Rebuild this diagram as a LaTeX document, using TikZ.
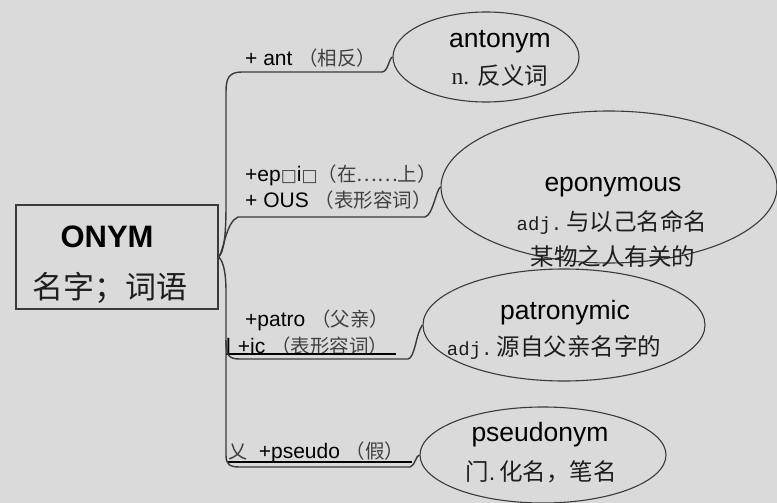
\documentclass[tikz,border=0pt]{standalone}
\usepackage{fontspec}
\setmainfont{Liberation Sans}
\newfontfamily\cjk{Noto Sans CJK SC}
\newfontfamily\monof{Liberation Mono}
\newfontfamily\seriff{Liberation Serif}
\newfontfamily\symf{DejaVu Sans}
\usetikzlibrary{shapes.geometric}
\definecolor{bgc}{HTML}{DADADA}
\definecolor{linec}{HTML}{3A3A3A}
\definecolor{txt}{HTML}{1E1E1E}
\definecolor{labc}{HTML}{404040}
\newcommand{\cjkl}[1]{{\cjk\fontsize{19.5}{23}\selectfont\color{labc}#1}}
\begin{document}
\begin{tikzpicture}[x=1pt,y=-1pt,
  bubble/.style={draw=linec, line width=1.1pt, ellipse, inner sep=0pt},
  branch/.style={draw=linec, line width=1.4pt},
  headtxt/.style={font=\fontsize{26.5}{30}\selectfont, text=black, inner sep=0pt},
  deftxt/.style={font=\fontsize{23.5}{27}\selectfont, text=txt, inner sep=0pt},
  labtxt/.style={anchor=west, font=\fontsize{21}{25}\selectfont, text=black, inner sep=0pt},
  uline/.style={draw=black, line width=1.1pt}]
\fill[bgc] (0,0) rectangle (777,503);
\useasboundingbox (0,0) rectangle (777,503);

% root box
\node[draw=linec, line width=1.4pt, minimum width=202pt, minimum height=104pt, inner sep=0pt, fill=bgc] (box) at (117,257) {};
\node[font=\fontsize{31}{35}\selectfont\bfseries, inner sep=0pt] (onym) at (107,237) {ONYM};
\node[font=\cjk\fontsize{31}{35}\selectfont, text=txt, inner sep=0pt] (onymcn) at (110,288) {名字；词语};

% ellipses
\node[bubble, minimum width=186pt, minimum height=90pt] (ant) at (486,57) {};
\node[bubble, minimum width=336pt, minimum height=152pt] (epo) at (609,187) {};
\node[bubble, minimum width=282pt, minimum height=112pt] (pat) at (564,325) {};
\node[bubble, minimum width=246pt, minimum height=96pt] (pse) at (543,455) {};

% ellipse texts
\node[headtxt] (antT) at (500,42) {antonym};
\node[deftxt] (antD) at (500,76) {{\seriff n.} {\cjk 反义词}};
\node[headtxt] (epoT) at (613,187) {eponymous};
\node[deftxt] (epoD1) at (612,222) {{\monof\fontsize{19}{22}\selectfont adj.}\,{\cjk 与以己名命名}};
\node[deftxt] (epoD2) at (613,257) {{\cjk 某物之人有关的}};
\node[headtxt] (patT) at (565,313) {patronymic};
\node[deftxt] (patD) at (554,348) {{\monof\fontsize{19}{22}\selectfont adj.}\,{\cjk 源自父亲名字的}};
\node[headtxt] (pseT) at (540,435) {pseudonym};
\node[deftxt] (pseD) at (541,472) {{\cjk 门}.\,{\cjk 化名，笔名}};

% branch labels
\node[labtxt] (l1) at (245,58) {+ ant \cjkl{（相反）}};
\node[labtxt] (l2a) at (245,175) {+ep{\symf\fontsize{17}{20}\selectfont\color{labc}□}i{\symf\fontsize{17}{20}\selectfont\color{labc}□}\cjkl{（在……上）}};
\node[labtxt] (l2b) at (245,200) {+ OUS \cjkl{（表形容词）}};
\node[labtxt] (l3a) at (245,320) {+patro \cjkl{（父亲）}};
\node[labtxt] (l3b) at (226,346) {l\hspace{7pt}+ic \cjkl{（表形容词）}};
\node[labtxt] (l4) at (228,452) {{\cjk\fontsize{19}{22}\selectfont\color{labc}乂}\ \ +pseudo \cjkl{（假）}};

% underlines
\coordinate (u3a) at (226,354);
\coordinate (u3b) at (396,354);
\coordinate (u4a) at (227,462);
\coordinate (u4b) at (412,462);
\draw[uline] (u3a) -- (u3b);
\draw[uline] (u4a) -- (u4b);

% branches
\coordinate (split) at (226,340);
\draw[branch] (box.east) .. controls (224,252) and (226,235) .. (226,205) -- (226,92)
  .. controls (226,78) and (229,72) .. (242,72) -- (382,72)
  .. controls (388,72) and (389,58) .. (ant.west);
\draw[branch] (box.east) .. controls (224,250) and (226,222) .. (238,217) -- (425,217)
  .. controls (433,215) and (436,190) .. (epo.west);
\draw[branch] (box.east) .. controls (224,262) and (226,275) .. (226,292) -- (split)
  .. controls (226,356) and (229,359) .. (240,359) -- (408,359)
  .. controls (415,358) and (416,333) .. (pat.west);
\draw[branch] (split) -- (226,455)
  .. controls (226,465) and (230,467) .. (240,467) -- (410,467)
  .. controls (415,466) and (416,455) .. (pse.west);
\end{tikzpicture}
\end{document}
